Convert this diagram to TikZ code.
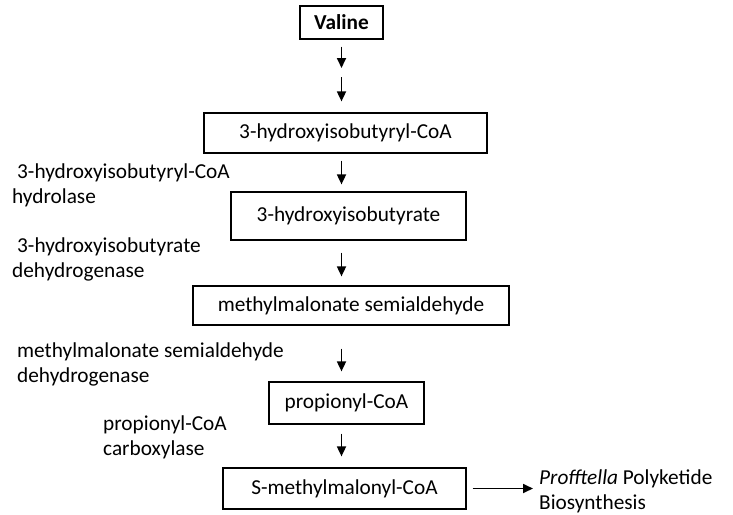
\documentclass[tikz,border=0pt]{standalone}
\usepackage{fontspec}
\setmainfont{Carlito}
\usetikzlibrary{arrows.meta}
\begin{document}
\begin{tikzpicture}[x=1pt,y=-1pt,
  txt/.style={font=\fontsize{21.3}{25}\selectfont},
  box/.style={draw,line width=1.2pt,inner sep=0pt,txt},
  lbl/.style={inner sep=0pt,align=left,anchor=base west,txt},
  arr/.style={line width=1.7pt,-{Triangle[length=10pt,width=9pt]}}]
\useasboundingbox (0,0) rectangle (733,514);
% boxes
\node[box,minimum width=83pt,minimum height=33pt] (valine) at (341.5,22.5) {\textbf{Valine}};
\node[box,minimum width=283pt,minimum height=40pt] (hibcoa) at (345.5,133) {3-hydroxyisobutyryl-CoA};
\node[box,minimum width=235pt,minimum height=48pt] (hib) at (348.5,216) {3-hydroxyisobutyrate};
\node[box,minimum width=316pt,minimum height=39pt] (mms) at (351,305.5) {methylmalonate semialdehyde};
\node[box,minimum width=155pt,minimum height=42pt] (pcoa) at (346.5,403) {propionyl-CoA};
\node[box,minimum width=243pt,minimum height=41pt] (smm) at (344.5,488.5) {S-methylmalonyl-CoA};
\node[lbl] (pk) at (539,509) {\textit{Profftella} Polyketide\\Biosynthesis};
% enzyme labels (base anchor = last line)
\node[lbl] (e1) at (12,203) {\hspace*{5pt}3-hydroxyisobutyryl-CoA\\hydrolase};
\node[lbl] (e2) at (12,277) {\hspace*{5pt}3-hydroxyisobutyrate\\dehydrogenase};
\node[lbl] (e3) at (17,382) {methylmalonate semialdehyde\\dehydrogenase};
\node[lbl] (e4) at (103,455) {propionyl-CoA\\carboxylase};
% arrows
\coordinate (mid) at (341.5,72.5);
\draw[arr,shorten <=7pt,shorten >=4.5pt] (valine.south) -- (mid);
\draw[arr,shorten <=4.5pt,shorten >=11pt] (mid) -- (hibcoa.north -| mid);
\draw[arr,shorten <=7pt,shorten >=7pt] (hibcoa.south -| mid) -- (hib.north -| mid);
\draw[arr,shorten <=12pt,shorten >=9pt] (hib.south -| mid) -- (mms.north -| mid);
\draw[arr,shorten <=23pt,shorten >=10pt] (mms.south -| mid) -- (pcoa.north -| mid);
\draw[arr,shorten <=9pt,shorten >=11pt] (pcoa.south -| mid) -- (smm.north -| mid);
\draw[arr,shorten <=6pt,shorten >=6pt] (smm.east) -- (pk.west |- smm.east);
\end{tikzpicture}
\end{document}
